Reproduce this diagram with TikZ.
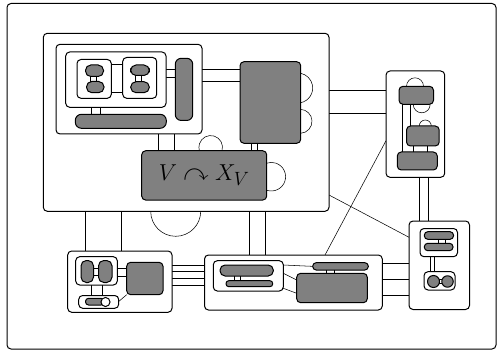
\documentclass[tikz,border=0pt]{standalone}
\usepackage{amssymb}
\definecolor{gfill}{RGB}{128,128,128}
\pgfdeclarelayer{c1}\pgfdeclarelayer{b1}\pgfdeclarelayer{c2}\pgfdeclarelayer{b2}
\pgfdeclarelayer{c3}\pgfdeclarelayer{b3}\pgfdeclarelayer{c4}\pgfdeclarelayer{b4}
\pgfdeclarelayer{c5}\pgfdeclarelayer{b5}
\pgfsetlayers{c1,b1,c2,b2,c3,b3,c4,b4,c5,b5,main}
\tikzset{
  wbox/.style={draw, fill=white, line width=0.75pt, rounded corners=3pt, inner sep=0pt, outer sep=0pt},
  gbox/.style={wbox, fill=gfill},
  gpill/.style={gbox, rounded corners=#1},
  gdot/.style={draw, fill=gfill, circle, inner sep=0pt, outer sep=0pt, line width=0.75pt},
  wdot/.style={draw, fill=white, circle, inner sep=0pt, outer sep=0pt, line width=0.75pt},
}
\newcommand\mkbox[6]{\node[#1, minimum width={(#5-#3)*0.75pt}, minimum height={(#6-#4)*0.75pt}] (#2) at ({(#3+#5)/2},{(#4+#6)/2}) {};}
\begin{document}
\begin{tikzpicture}[x=0.75pt, y=-0.75pt, line width=0.75pt]
\useasboundingbox (0,0) rectangle (498,352);
\draw[rounded corners=3pt] (7,3.5) rectangle (496,349);

% ---------- level 1 boxes
\begin{pgfonlayer}{b1}
\mkbox{wbox}{A}{43.3}{33.3}{329}{211.3}
\mkbox{wbox}{G}{386}{71}{444.7}{177.3}
\mkbox{wbox}{K}{409}{221}{469.5}{309.5}
\mkbox{wbox}{L}{67.7}{251}{172}{312.3}
\mkbox{wbox}{M}{204.5}{255}{382.3}{310}
\end{pgfonlayer}

% ---------- level 1 connectors
\begin{pgfonlayer}{c1}
\draw (A |- 0,90.7) -- (G |- 0,90.7);
\draw (A |- 0,113) -- (G |- 0,113);
\draw (85,0 |- A) -- (85,0 |- L);
\draw (121,0 |- A) -- (121,0 |- L);
\draw (249.7,0 |- A) -- (249.7,0 |- M);
\draw (265.3,0 |- A) -- (265.3,0 |- M);
\foreach \y in {265.3,271.5,278.3,285} \draw (L |- 0,\y) -- (M |- 0,\y);
\foreach \y in {263.3,279.3,295.7} \draw (M |- 0,\y) -- (K |- 0,\y);
\draw (419.3,0 |- G) -- (419.3,0 |- K);
\draw (428,0 |- G) -- (428,0 |- K);
\draw (A.east |- 0,195) -- (K.west |- 0,237.3);
\draw (G.west |- 0,140.7) -- (325,0 |- M.north);
\draw (A.south -| 150.7,0) arc[start angle=180, end angle=360, radius=18.75pt];
\end{pgfonlayer}

% ---------- level 2 boxes
\begin{pgfonlayer}{b2}
\mkbox{wbox}{B}{56}{44.3}{202}{134}
\mkbox{gbox}{F}{240}{61.7}{300.7}{143.3}
\node[gbox, minimum width={125*0.75pt}, minimum height={49.3*0.75pt}, font=\fontsize{19}{22}\selectfont] (V) at (204.2,175.4) {$V \curvearrowright X_V$};
\mkbox{gbox}{G1}{399}{86.3}{433.5}{104.3}
\mkbox{gbox}{G2}{406.5}{126}{439.2}{146}
\mkbox{gbox}{G3}{397.3}{152}{437.3}{170}
\mkbox{wbox}{K1}{420}{228.5}{457.5}{256.7}
\mkbox{wbox}{K2}{424}{271.7}{455}{290}
\mkbox{wbox}{L1}{75.7}{256.7}{117.3}{285}
\mkbox{gbox}{L2}{126.7}{262.3}{163}{294.7}
\mkbox{wbox}{L3}{78.7}{295.5}{118.7}{308.3}
\mkbox{wbox}{M1}{213.3}{260.7}{283.3}{291}
\mkbox{gpill=2.6pt}{M2}{312.7}{262.7}{368.3}{270}
\mkbox{gbox}{M3}{296.7}{273.3}{367.3}{302.7}
\end{pgfonlayer}

% ---------- level 2 connectors and loops
\begin{pgfonlayer}{c2}
\draw (B |- 0,69.3) -- (F |- 0,69.3);
\draw (B |- 0,81.7) -- (F |- 0,81.7);
\draw (158.3,0 |- B) -- (158.3,0 |- V);
\draw (174.3,0 |- B) -- (174.3,0 |- V);
\draw (251.3,0 |- F) -- (251.3,0 |- V);
\draw (257.3,0 |- F) -- (257.3,0 |- V);
\draw (F.east |- 0,102.7) arc[start angle=-78.46, end angle=78.46, radius=11.25pt];
\draw (F.east |- 0,133.3) arc[start angle=-86.7, end angle=86.7, radius=9pt];
\draw (V.north -| 222,0) arc[start angle=-16.75, end angle=196.75, radius=8.85pt];
\draw (V.east |- 0,190.24) arc[start angle=-108.77, end angle=108.77, radius=10.725pt];
\draw (402.7,0 |- G1) -- (402.7,0 |- G3);
\draw (410,0 |- G1) -- (410,0 |- G2);
\draw (413.3,0 |- G2) -- (413.3,0 |- G3);
\draw (427.7,0 |- G2) -- (427.7,0 |- G3);
\draw (G1.north -| 423.5,0) arc[start angle=0, end angle=180, radius=6.375pt];
\draw (G1.south -| 430.2,0) arc[start angle=0, end angle=-180, radius=6.375pt];
\draw (G2.north -| 431.3,0) arc[start angle=0, end angle=180, radius=4.5pt];
\draw (430,0 |- K1) -- (430,0 |- K2);
\draw (434,0 |- K1) -- (434,0 |- K2);
\draw (L1 |- 0,268.3) -- (L2 |- 0,268.3);
\draw (L1 |- 0,276) -- (L2 |- 0,276);
\draw (91.7,0 |- L1) -- (91.7,0 |- L3);
\draw (102.3,0 |- L1) -- (102.3,0 |- L3);
\draw (L3.east |- 0,301.5) -- (L2.south west);
\draw (M1.east |- 0,265) -- (M2.west);
\draw (M1.east |- 0,273.3) -- (M3.west |- 0,280);
\draw (M1.east |- 0,288.3) -- (M3.west |- 0,293.3);
\draw (326,0 |- M2) -- (326,0 |- M3);
\draw (334.3,0 |- M2) -- (334.3,0 |- M3);
\end{pgfonlayer}

% ---------- level 3 boxes
\begin{pgfonlayer}{b3}
\mkbox{wbox}{C}{65.7}{52}{166}{107.3}
\mkbox{gpill=4.5pt}{D}{175.3}{58.3}{192.7}{120.5}
\mkbox{gpill=4.6pt}{E}{75.3}{114.3}{166.3}{128.3}
\mkbox{gpill=2.6pt}{K1a}{424.3}{231.7}{453.5}{239.3}
\mkbox{gpill=2.6pt}{K1b}{424.3}{243.3}{453}{250.7}
\node[gdot, minimum size=9pt] (K2a) at (433.5,281.5) {};
\node[gdot, minimum size=8.6pt] (K2b) at (447.5,281.5) {};
\mkbox{gpill=4pt}{L1a}{81}{260.5}{93.5}{282.5}
\mkbox{gpill=4pt}{L1b}{98.5}{260.5}{112}{282.5}
\mkbox{gpill=2.3pt}{L3a}{85.5}{298.3}{104}{305}
\node[wdot, minimum size=6.8pt] (L3b) at (105.5,302) {};
\mkbox{gpill=3.8pt}{M1a}{220}{265}{273.3}{276}
\mkbox{gpill=2.1pt}{M1b}{226}{280.7}{272.7}{286.7}
\end{pgfonlayer}

% ---------- level 3 connectors
\begin{pgfonlayer}{c3}
\draw (C |- 0,69) -- (D |- 0,69);
\draw (C |- 0,77.5) -- (D |- 0,77.5);
\draw (91,0 |- C) -- (91,0 |- E);
\draw (100.7,0 |- C) -- (100.7,0 |- E);
\draw (438.3,0 |- K1a) -- (438.3,0 |- K1b);
\draw (445,0 |- K1a) -- (445,0 |- K1b);
\draw (K2a |- 0,279.5) -- (K2b |- 0,279.5);
\draw (K2a |- 0,283.5) -- (K2b |- 0,283.5);
\draw (L1a |- 0,268) -- (L1b |- 0,268);
\draw (L1a |- 0,275) -- (L1b |- 0,275);
\draw (234.3,0 |- M1a) -- (234.3,0 |- M1b);
\draw (240.7,0 |- M1a) -- (240.7,0 |- M1b);
\end{pgfonlayer}

% ---------- level 4 boxes
\begin{pgfonlayer}{b4}
\mkbox{wbox}{C1}{77}{59.5}{111.3}{98.3}
\mkbox{wbox}{C2}{122.7}{57.5}{156.7}{98.3}
\end{pgfonlayer}
\begin{pgfonlayer}{c4}
\draw (C1 |- 0,64.3) -- (C2 |- 0,64.3);
\draw (C1 |- 0,92.3) -- (C2 |- 0,92.3);
\end{pgfonlayer}

% ---------- level 5 boxes
\begin{pgfonlayer}{b5}
\mkbox{gpill=4pt}{C1a}{85.5}{65}{103.5}{76.5}
\mkbox{gpill=4pt}{C1b}{86.5}{81.5}{104}{92.7}
\mkbox{gpill=4pt}{C2a}{130.7}{65}{149.3}{75.5}
\mkbox{gpill=4pt}{C2b}{130.7}{81.7}{149.3}{92.7}
\end{pgfonlayer}
\begin{pgfonlayer}{c5}
\draw (90,0 |- C1a) -- (90,0 |- C1b);
\draw (96,0 |- C1a) -- (96,0 |- C1b);
\draw (135,0 |- C2a) -- (135,0 |- C2b);
\draw (141.7,0 |- C2a) -- (141.7,0 |- C2b);
\end{pgfonlayer}
\end{tikzpicture}
\end{document}
